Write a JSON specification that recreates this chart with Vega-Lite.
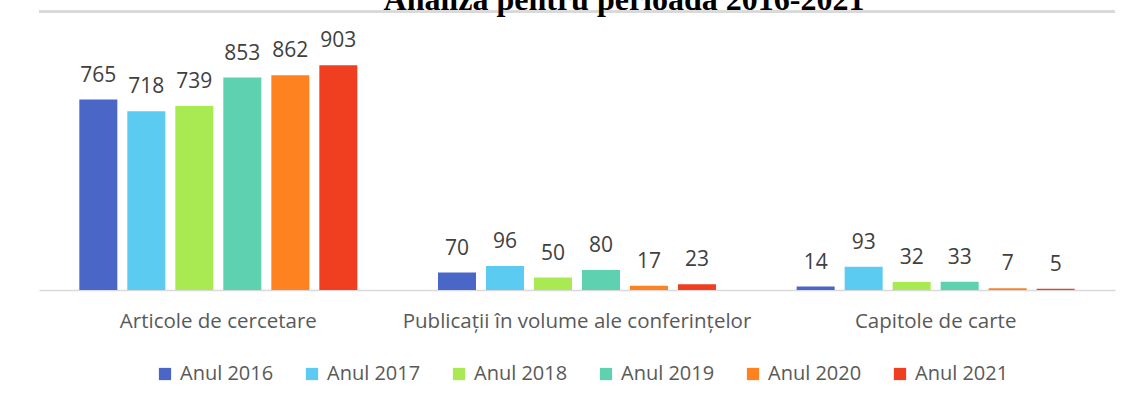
{
  "$schema": "https://vega.github.io/schema/vega-lite/v6.json",
  "autosize": {"type": "none"},
  "width": 1076,
  "height": 249,
  "padding": {"left": 39, "top": 41, "right": 17, "bottom": 116},
  "background": "white",
  "config": {"view": {"stroke": null}},
  "title": {
    "text": "Analiza pentru perioada 2016-2021",
    "font": "Liberation Serif",
    "fontWeight": "bold",
    "fontSize": 32,
    "color": "#000000",
    "anchor": "middle",
    "baseline": "alphabetic",
    "dx": 47,
    "dy": 61,
    "offset": 30
  },
  "data": {
    "values": [
      {"cat": "Articole de cercetare", "year": "Anul 2016", "value": 765},
      {"cat": "Articole de cercetare", "year": "Anul 2017", "value": 718},
      {"cat": "Articole de cercetare", "year": "Anul 2018", "value": 739},
      {"cat": "Articole de cercetare", "year": "Anul 2019", "value": 853},
      {"cat": "Articole de cercetare", "year": "Anul 2020", "value": 862},
      {"cat": "Articole de cercetare", "year": "Anul 2021", "value": 903},
      {"cat": "Publicații în volume ale conferințelor", "year": "Anul 2016", "value": 70},
      {"cat": "Publicații în volume ale conferințelor", "year": "Anul 2017", "value": 96},
      {"cat": "Publicații în volume ale conferințelor", "year": "Anul 2018", "value": 50},
      {"cat": "Publicații în volume ale conferințelor", "year": "Anul 2019", "value": 80},
      {"cat": "Publicații în volume ale conferințelor", "year": "Anul 2020", "value": 17},
      {"cat": "Publicații în volume ale conferințelor", "year": "Anul 2021", "value": 23},
      {"cat": "Capitole de carte", "year": "Anul 2016", "value": 14},
      {"cat": "Capitole de carte", "year": "Anul 2017", "value": 93},
      {"cat": "Capitole de carte", "year": "Anul 2018", "value": 32},
      {"cat": "Capitole de carte", "year": "Anul 2019", "value": 33},
      {"cat": "Capitole de carte", "year": "Anul 2020", "value": 7},
      {"cat": "Capitole de carte", "year": "Anul 2021", "value": 5}
    ]
  },
  "layer": [
    {
      "mark": {"type": "bar"},
      "encoding": {
        "x": {
          "field": "cat",
          "type": "nominal",
          "sort": ["Articole de cercetare", "Publicații în volume ale conferințelor", "Capitole de carte"],
          "scale": {"paddingInner": 0, "paddingOuter": 0},
          "axis": {
            "title": null,
            "labelAngle": 0,
            "labelLimit": 0,
            "ticks": false,
            "domainColor": "#d9d9d9",
            "domainWidth": 1.5,
            "labelFont": "Open Sans",
            "labelFontSize": 20.5,
            "labelColor": "#595959",
            "labelPadding": 21
          }
        },
        "xOffset": {
          "field": "year",
          "type": "nominal",
          "scale": {"paddingInner": 0.208, "paddingOuter": 0.84}
        },
        "y": {
          "field": "value",
          "type": "quantitative",
          "scale": {"domain": [0, 1000]},
          "axis": null
        },
        "color": {
          "field": "year",
          "type": "nominal",
          "scale": {
            "domain": ["Anul 2016", "Anul 2017", "Anul 2018", "Anul 2019", "Anul 2020", "Anul 2021"],
            "range": ["#4A67C8", "#5BCBF2", "#A9E951", "#5DD1B0", "#FE8220", "#F03F20"]
          },
          "legend": {
            "title": null,
            "orient": "none",
            "direction": "horizontal",
            "legendX": 116,
            "legendY": 323,
            "padding": 0,
            "symbolType": "square",
            "symbolSize": 150,
            "symbolStrokeWidth": 0,
            "labelFont": "Open Sans",
            "labelFontSize": 20,
            "labelColor": "#595959",
            "labelOffset": 5,
            "columnPadding": 28
          }
        }
      }
    },
    {
      "mark": {
        "type": "text",
        "baseline": "alphabetic",
        "dy": -18,
        "font": "Open Sans",
        "fontSize": 21,
        "color": "#404040"
      },
      "encoding": {
        "x": {
          "field": "cat",
          "type": "nominal",
          "sort": ["Articole de cercetare", "Publicații în volume ale conferințelor", "Capitole de carte"]
        },
        "xOffset": {"field": "year", "type": "nominal"},
        "y": {"field": "value", "type": "quantitative"},
        "text": {"field": "value", "type": "quantitative"}
      }
    },
    {
      "mark": {"type": "rule", "color": "#d9d9d9", "strokeWidth": 2},
      "encoding": {
        "y": {"datum": 1117, "type": "quantitative"}
      }
    }
  ]
}
